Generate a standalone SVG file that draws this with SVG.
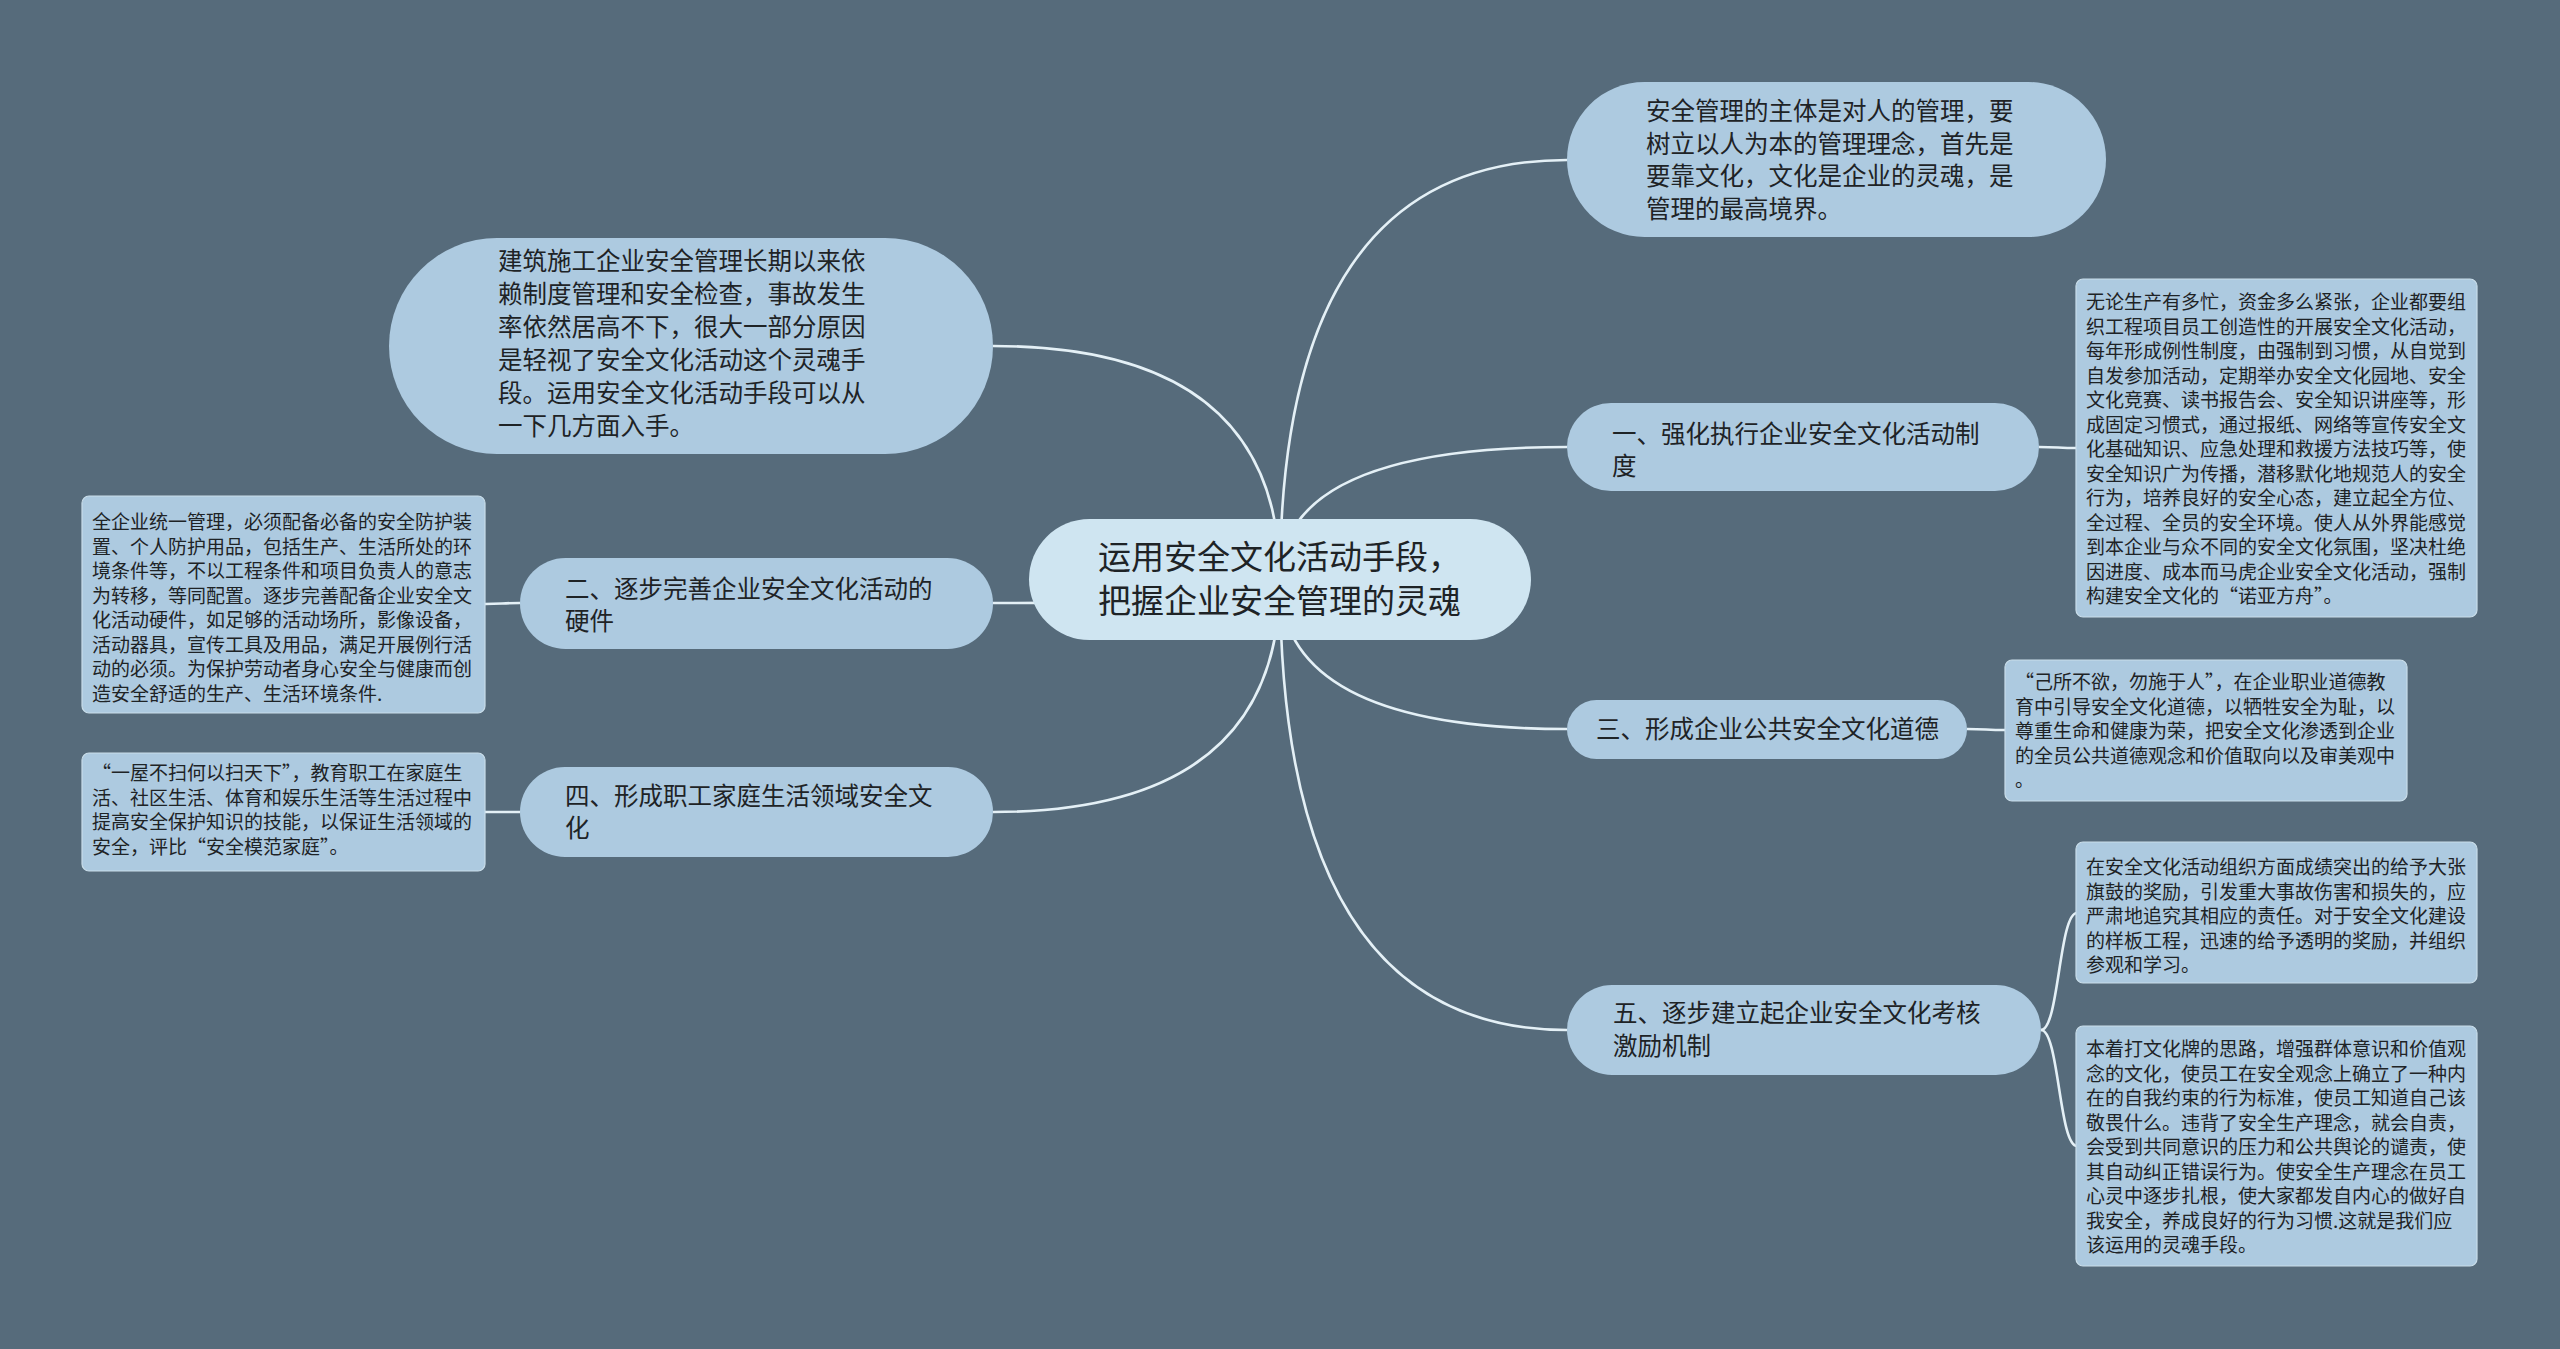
<svg xmlns="http://www.w3.org/2000/svg" width="2560" height="1349" viewBox="0 0 2560 1349">
<style>
text{font-family:"Noto Sans CJK SC","Noto Sans",sans-serif;fill:#1e2326}
.root{fill:#cfe5f1}
.br{fill:#adcae0}
.lf{fill:#adcae0;stroke:#c9dde9;stroke-width:1.2}
.t1{font-size:33px}
.t2{font-size:24.5px}
.t3{font-size:19px}
#connectors path{fill:none;stroke:#e4f0f6;stroke-width:2.6}
</style>
<rect x="0" y="0" width="2560" height="1349" fill="#566b7b"/>
<g id="connectors">
<path d="M1280 580 Q1280 346 993 346"/>
<path d="M1280 580 Q1280 160 1567 160"/>
<path d="M1280 580 Q1280 447 1567 447"/>
<path d="M1280 580 Q1280 603 993 603"/>
<path d="M1280 580 Q1280 729 1567 729"/>
<path d="M1280 580 Q1280 812 993 812"/>
<path d="M1280 580 Q1280 1030 1567 1030"/>
<path d="M2039 447 C2058 447 2058 448 2077 448"/>
<path d="M1967 729 C1986 729 1986 730 2005 730"/>
<path d="M2041 1030 C2059 1030 2059 913 2077 913"/>
<path d="M2041 1030 C2059 1030 2059 1146 2077 1146"/>
<path d="M520 603 C502 603 502 604 485 604"/>
<path d="M520 812 C502 812 502 812 485 812"/>
</g>
<g id="root">
<rect class="root" x="1029" y="519" width="502" height="121" rx="60.5"/>
<text class="t1" x="1098" y="569">运用安全文化活动手段，</text>
<text class="t1" x="1098" y="613">把握企业安全管理的灵魂</text>
</g>
<g id="node-intro">
<rect class="br" x="389" y="238" width="604" height="216" rx="108"/>
<text class="t2" x="498"><tspan x="498" y="270">建筑施工企业安全管理长期以来依</tspan><tspan x="498" y="303">赖制度管理和安全检查，事故发生</tspan><tspan x="498" y="336">率依然居高不下，很大一部分原因</tspan><tspan x="498" y="369">是轻视了安全文化活动这个灵魂手</tspan><tspan x="498" y="402">段。运用安全文化活动手段可以从</tspan><tspan x="498" y="435">一下几方面入手。</tspan></text>
</g>
<g id="node-subject">
<rect class="br" x="1567" y="82" width="539" height="155" rx="77.5"/>
<text class="t2"><tspan x="1646" y="120">安全管理的主体是对人的管理，要</tspan><tspan x="1646" y="153">树立以人为本的管理理念，首先是</tspan><tspan x="1646" y="185">要靠文化，文化是企业的灵魂，是</tspan><tspan x="1646" y="218">管理的最高境界。</tspan></text>
</g>
<g id="node-1">
<rect class="br" x="1567" y="403" width="472" height="88" rx="44"/>
<text class="t2"><tspan x="1612" y="443">一、强化执行企业安全文化活动制</tspan><tspan x="1612" y="475">度</tspan></text>
</g>
<g id="node-3">
<rect class="br" x="1567" y="700" width="400" height="59" rx="29.5"/>
<text class="t2" x="1596" y="738">三、形成企业公共安全文化道德</text>
</g>
<g id="node-5">
<rect class="br" x="1567" y="985" width="474" height="90" rx="45"/>
<text class="t2"><tspan x="1613" y="1022">五、逐步建立起企业安全文化考核</tspan><tspan x="1613" y="1055">激励机制</tspan></text>
</g>
<g id="node-2">
<rect class="br" x="520" y="558" width="473" height="91" rx="45.5"/>
<text class="t2"><tspan x="565" y="598">二、逐步完善企业安全文化活动的</tspan><tspan x="565" y="630">硬件</tspan></text>
</g>
<g id="node-4">
<rect class="br" x="520" y="767" width="473" height="90" rx="45"/>
<text class="t2"><tspan x="565" y="805">四、形成职工家庭生活领域安全文</tspan><tspan x="565" y="837">化</tspan></text>
</g>
<g id="leaf-1">
<rect class="lf" x="2076" y="279" width="401" height="338" rx="7"/>
<text class="t3"><tspan x="2086" y="309">无论生产有多忙，资金多么紧张，企业都要组</tspan><tspan x="2086" y="333.5">织工程项目员工创造性的开展安全文化活动，</tspan><tspan x="2086" y="358">每年形成例性制度，由强制到习惯，从自觉到</tspan><tspan x="2086" y="382.5">自发参加活动，定期举办安全文化园地、安全</tspan><tspan x="2086" y="407">文化竞赛、读书报告会、安全知识讲座等，形</tspan><tspan x="2086" y="431.5">成固定习惯式，通过报纸、网络等宣传安全文</tspan><tspan x="2086" y="456">化基础知识、应急处理和救援方法技巧等，使</tspan><tspan x="2086" y="480.5">安全知识广为传播，潜移默化地规范人的安全</tspan><tspan x="2086" y="505">行为，培养良好的安全心态，建立起全方位、</tspan><tspan x="2086" y="529.5">全过程、全员的安全环境。使人从外界能感觉</tspan><tspan x="2086" y="554">到本企业与众不同的安全文化氛围，坚决杜绝</tspan><tspan x="2086" y="578.5">因进度、成本而马虎企业安全文化活动，强制</tspan><tspan x="2086" y="603">构建安全文化的“诺亚方舟”。</tspan></text>
</g>
<g id="leaf-3">
<rect class="lf" x="2005" y="660" width="402" height="141" rx="7"/>
<text class="t3"><tspan x="2015" y="689">“己所不欲，勿施于人”，在企业职业道德教</tspan><tspan x="2015" y="713.5">育中引导安全文化道德，以牺牲安全为耻，以</tspan><tspan x="2015" y="738">尊重生命和健康为荣，把安全文化渗透到企业</tspan><tspan x="2015" y="762.5">的全员公共道德观念和价值取向以及审美观中</tspan><tspan x="2015" y="787">。</tspan></text>
</g>
<g id="leaf-5a">
<rect class="lf" x="2076" y="842" width="401" height="141" rx="7"/>
<text class="t3"><tspan x="2086" y="874">在安全文化活动组织方面成绩突出的给予大张</tspan><tspan x="2086" y="898.5">旗鼓的奖励，引发重大事故伤害和损失的，应</tspan><tspan x="2086" y="923">严肃地追究其相应的责任。对于安全文化建设</tspan><tspan x="2086" y="947.5">的样板工程，迅速的给予透明的奖励，并组织</tspan><tspan x="2086" y="972">参观和学习。</tspan></text>
</g>
<g id="leaf-5b">
<rect class="lf" x="2076" y="1026" width="401" height="240" rx="7"/>
<text class="t3"><tspan x="2086" y="1056">本着打文化牌的思路，增强群体意识和价值观</tspan><tspan x="2086" y="1080.5">念的文化，使员工在安全观念上确立了一种内</tspan><tspan x="2086" y="1105">在的自我约束的行为标准，使员工知道自己该</tspan><tspan x="2086" y="1129.5">敬畏什么。违背了安全生产理念，就会自责，</tspan><tspan x="2086" y="1154">会受到共同意识的压力和公共舆论的谴责，使</tspan><tspan x="2086" y="1178.5">其自动纠正错误行为。使安全生产理念在员工</tspan><tspan x="2086" y="1203">心灵中逐步扎根，使大家都发自内心的做好自</tspan><tspan x="2086" y="1227.5">我安全，养成良好的行为习惯.这就是我们应</tspan><tspan x="2086" y="1252">该运用的灵魂手段。</tspan></text>
</g>
<g id="leaf-2">
<rect class="lf" x="82" y="496" width="403" height="217" rx="7"/>
<text class="t3"><tspan x="92" y="529">全企业统一管理，必须配备必备的安全防护装</tspan><tspan x="92" y="553.5">置、个人防护用品，包括生产、生活所处的环</tspan><tspan x="92" y="578">境条件等，不以工程条件和项目负责人的意志</tspan><tspan x="92" y="602.5">为转移，等同配置。逐步完善配备企业安全文</tspan><tspan x="92" y="627">化活动硬件，如足够的活动场所，影像设备，</tspan><tspan x="92" y="651.5">活动器具，宣传工具及用品，满足开展例行活</tspan><tspan x="92" y="676">动的必须。为保护劳动者身心安全与健康而创</tspan><tspan x="92" y="700.5">造安全舒适的生产、生活环境条件.</tspan></text>
</g>
<g id="leaf-4">
<rect class="lf" x="82" y="753" width="403" height="118" rx="7"/>
<text class="t3"><tspan x="92" y="780">“一屋不扫何以扫天下”，教育职工在家庭生</tspan><tspan x="92" y="804.5">活、社区生活、体育和娱乐生活等生活过程中</tspan><tspan x="92" y="829">提高安全保护知识的技能，以保证生活领域的</tspan><tspan x="92" y="853.5">安全，评比“安全模范家庭”。</tspan></text>
</g>
</svg>
